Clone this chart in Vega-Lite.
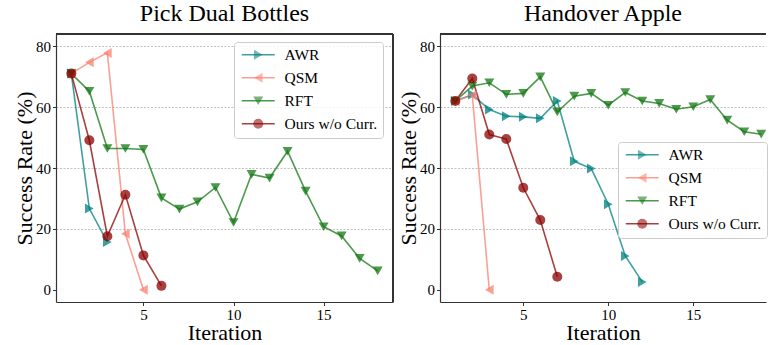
{
  "$schema": "https://vega.github.io/schema/vega-lite/v6.json",
  "padding": {"left": 13, "top": 2, "right": 0, "bottom": 0},
  "datasets": {
    "pick": [
      {"method": "AWR", "iteration": 1, "rate": 71},
      {"method": "AWR", "iteration": 2, "rate": 26.7},
      {"method": "AWR", "iteration": 3, "rate": 15.7},
      {"method": "QSM", "iteration": 1, "rate": 71},
      {"method": "QSM", "iteration": 2, "rate": 74.7},
      {"method": "QSM", "iteration": 3, "rate": 77.8},
      {"method": "QSM", "iteration": 4, "rate": 18.4},
      {"method": "QSM", "iteration": 5, "rate": 0},
      {"method": "RFT", "iteration": 1, "rate": 71},
      {"method": "RFT", "iteration": 2, "rate": 65.2},
      {"method": "RFT", "iteration": 3, "rate": 46.4},
      {"method": "RFT", "iteration": 4, "rate": 46.4},
      {"method": "RFT", "iteration": 5, "rate": 46.1},
      {"method": "RFT", "iteration": 6, "rate": 30.2},
      {"method": "RFT", "iteration": 7, "rate": 26.5},
      {"method": "RFT", "iteration": 8, "rate": 28.9},
      {"method": "RFT", "iteration": 9, "rate": 33.6},
      {"method": "RFT", "iteration": 10, "rate": 22.1},
      {"method": "RFT", "iteration": 11, "rate": 37.9},
      {"method": "RFT", "iteration": 12, "rate": 36.7},
      {"method": "RFT", "iteration": 13, "rate": 45.5},
      {"method": "RFT", "iteration": 14, "rate": 32.4},
      {"method": "RFT", "iteration": 15, "rate": 20.7},
      {"method": "RFT", "iteration": 16, "rate": 17.7},
      {"method": "RFT", "iteration": 17, "rate": 10.3},
      {"method": "RFT", "iteration": 18, "rate": 6.2},
      {"method": "Ours w/o Curr.", "iteration": 1, "rate": 71},
      {"method": "Ours w/o Curr.", "iteration": 2, "rate": 49.1},
      {"method": "Ours w/o Curr.", "iteration": 3, "rate": 17.6},
      {"method": "Ours w/o Curr.", "iteration": 4, "rate": 31.2},
      {"method": "Ours w/o Curr.", "iteration": 5, "rate": 11.3},
      {"method": "Ours w/o Curr.", "iteration": 6, "rate": 1.3}
    ],
    "apple": [
      {"method": "AWR", "iteration": 1, "rate": 62},
      {"method": "AWR", "iteration": 2, "rate": 64.1},
      {"method": "AWR", "iteration": 3, "rate": 59.2},
      {"method": "AWR", "iteration": 4, "rate": 57.0},
      {"method": "AWR", "iteration": 5, "rate": 56.8},
      {"method": "AWR", "iteration": 6, "rate": 56.3},
      {"method": "AWR", "iteration": 7, "rate": 62.0},
      {"method": "AWR", "iteration": 8, "rate": 42.2},
      {"method": "AWR", "iteration": 9, "rate": 39.8},
      {"method": "AWR", "iteration": 10, "rate": 28.1},
      {"method": "AWR", "iteration": 11, "rate": 11.1},
      {"method": "AWR", "iteration": 12, "rate": 2.6},
      {"method": "QSM", "iteration": 1, "rate": 62},
      {"method": "QSM", "iteration": 2, "rate": 63.9},
      {"method": "QSM", "iteration": 3, "rate": 0},
      {"method": "RFT", "iteration": 1, "rate": 62},
      {"method": "RFT", "iteration": 2, "rate": 66.9},
      {"method": "RFT", "iteration": 3, "rate": 68},
      {"method": "RFT", "iteration": 4, "rate": 64.2},
      {"method": "RFT", "iteration": 5, "rate": 64.5},
      {"method": "RFT", "iteration": 6, "rate": 69.9},
      {"method": "RFT", "iteration": 7, "rate": 58.4},
      {"method": "RFT", "iteration": 8, "rate": 63.6},
      {"method": "RFT", "iteration": 9, "rate": 64.5},
      {"method": "RFT", "iteration": 10, "rate": 60.6},
      {"method": "RFT", "iteration": 11, "rate": 64.8},
      {"method": "RFT", "iteration": 12, "rate": 62},
      {"method": "RFT", "iteration": 13, "rate": 61.2},
      {"method": "RFT", "iteration": 14, "rate": 59.3},
      {"method": "RFT", "iteration": 15, "rate": 60.1},
      {"method": "RFT", "iteration": 16, "rate": 62.5},
      {"method": "RFT", "iteration": 17, "rate": 55.7},
      {"method": "RFT", "iteration": 18, "rate": 51.9},
      {"method": "RFT", "iteration": 19, "rate": 51.1},
      {"method": "Ours w/o Curr.", "iteration": 1, "rate": 62},
      {"method": "Ours w/o Curr.", "iteration": 2, "rate": 69.4},
      {"method": "Ours w/o Curr.", "iteration": 3, "rate": 51.0},
      {"method": "Ours w/o Curr.", "iteration": 4, "rate": 49.5},
      {"method": "Ours w/o Curr.", "iteration": 5, "rate": 33.5},
      {"method": "Ours w/o Curr.", "iteration": 6, "rate": 22.9},
      {"method": "Ours w/o Curr.", "iteration": 7, "rate": 4.3}
    ]
  },
  "spacing": 2,
  "resolve": {
    "scale": {"stroke": "independent", "fill": "independent", "shape": "independent"},
    "legend": {"stroke": "independent", "fill": "independent", "shape": "independent"}
  },
  "hconcat": [
    {
      "width": 337,
      "height": 268,
      "title": {"text": "Pick Dual Bottles"},
      "data": {"name": "pick"},
      "layer": [
        {
          "mark": {"type": "rule", "color": "#333333", "strokeWidth": 1.2},
          "encoding": {"y": {"datum": 84, "type": "quantitative"}}
        },
        {
          "mark": {"type": "rule", "color": "#333333", "strokeWidth": 1.2},
          "encoding": {"x": {"datum": 18.85, "type": "quantitative"}}
        },
        {
          "mark": {"type": "line", "strokeWidth": 1.6, "opacity": 0.75},
          "encoding": {
            "x": {"field": "iteration", "type": "quantitative", "scale": {"domain": [0.15, 18.85], "nice": false, "zero": false},
                  "axis": {"values": [5, 10, 15], "grid": false, "title": "Iteration", "titlePadding": 0}},
            "y": {"field": "rate", "type": "quantitative", "scale": {"domain": [-4, 84], "nice": false, "zero": false},
                  "axis": {"values": [0, 20, 40, 60, 80], "grid": true, "gridColor": "#b0b0b0", "gridDash": [2, 1.5], "gridWidth": 0.8,
                           "gridOpacity": {"condition": {"test": "datum.value === 0", "value": 0}, "value": 1},
                           "title": "Success Rate (%)", "titlePadding": -1}},
            "stroke": {"field": "method", "type": "nominal", "sort": ["AWR", "QSM", "RFT", "Ours w/o Curr."],
                       "scale": {"range": ["#008080", "#fa8072", "#117711", "#8b0000"]},
                       "legend": {"orient": "none", "legendX": 178, "legendY": 8, "title": null, "symbolType": "M-1,0H5.6", "symbolSize": 100,
                                  "symbolStrokeWidth": 1.6, "labelOffset": 30, "strokeColor": "#cccccc", "fillColor": "rgba(255,255,255,0.8)"}}
          }
        },
        {
          "mark": {"type": "point", "filled": true, "size": 100, "opacity": 0.75},
          "encoding": {
            "x": {"field": "iteration", "type": "quantitative"},
            "y": {"field": "rate", "type": "quantitative"},
            "fill": {"field": "method", "type": "nominal",
                     "scale": {"domain": ["AWR", "QSM", "RFT", "Ours w/o Curr."], "range": ["#008080", "#fa8072", "#117711", "#8b0000"]},
                     "legend": {"orient": "none", "legendX": 189.5, "legendY": 8, "title": null, "symbolSize": 100, "symbolStrokeWidth": 0,
                                "labelOffset": 30, "labelOpacity": 0, "strokeColor": "transparent", "fillColor": "transparent"}},
            "shape": {"field": "method", "type": "nominal",
                      "scale": {"domain": ["AWR", "QSM", "RFT", "Ours w/o Curr."], "range": ["triangle-right", "triangle-left", "triangle-down", "circle"]},
                      "legend": {"orient": "none", "legendX": 189.5, "legendY": 8, "title": null, "symbolSize": 100, "symbolStrokeWidth": 0,
                                "labelOffset": 30, "labelOpacity": 0, "strokeColor": "transparent", "fillColor": "transparent"}}
          }
        }
      ]
    },
    {
      "width": 326,
      "height": 268,
      "title": {"text": "Handover Apple"},
      "data": {"name": "apple"},
      "layer": [
        {
          "mark": {"type": "rule", "color": "#333333", "strokeWidth": 1.2},
          "encoding": {"y": {"datum": 84, "type": "quantitative"}}
        },
        {
          "mark": {"type": "line", "strokeWidth": 1.6, "opacity": 0.75},
          "encoding": {
            "x": {"field": "iteration", "type": "quantitative", "scale": {"domain": [0.1, 19.28], "nice": false, "zero": false},
                  "axis": {"values": [5, 10, 15], "grid": false, "title": "Iteration", "titlePadding": 0}},
            "y": {"field": "rate", "type": "quantitative", "scale": {"domain": [-4, 84], "nice": false, "zero": false},
                  "axis": {"values": [0, 20, 40, 60, 80], "grid": true, "gridColor": "#b0b0b0", "gridDash": [2, 1.5], "gridWidth": 0.8,
                           "gridOpacity": {"condition": {"test": "datum.value === 0", "value": 0}, "value": 1},
                           "title": "Success Rate (%)", "titlePadding": -1}},
            "stroke": {"field": "method", "type": "nominal", "sort": ["AWR", "QSM", "RFT", "Ours w/o Curr."],
                       "scale": {"range": ["#008080", "#fa8072", "#117711", "#8b0000"]},
                       "legend": {"orient": "none", "legendX": 178, "legendY": 108, "title": null, "symbolType": "M-1,0H5.6", "symbolSize": 100,
                                  "symbolStrokeWidth": 1.6, "labelOffset": 30, "strokeColor": "#cccccc", "fillColor": "rgba(255,255,255,0.8)"}}
          }
        },
        {
          "mark": {"type": "point", "filled": true, "size": 100, "opacity": 0.75},
          "encoding": {
            "x": {"field": "iteration", "type": "quantitative"},
            "y": {"field": "rate", "type": "quantitative"},
            "fill": {"field": "method", "type": "nominal",
                     "scale": {"domain": ["AWR", "QSM", "RFT", "Ours w/o Curr."], "range": ["#008080", "#fa8072", "#117711", "#8b0000"]},
                     "legend": {"orient": "none", "legendX": 189.5, "legendY": 108, "title": null, "symbolSize": 100, "symbolStrokeWidth": 0,
                                "labelOffset": 30, "labelOpacity": 0, "strokeColor": "transparent", "fillColor": "transparent"}},
            "shape": {"field": "method", "type": "nominal",
                      "scale": {"domain": ["AWR", "QSM", "RFT", "Ours w/o Curr."], "range": ["triangle-right", "triangle-left", "triangle-down", "circle"]},
                      "legend": {"orient": "none", "legendX": 189.5, "legendY": 108, "title": null, "symbolSize": 100, "symbolStrokeWidth": 0,
                                "labelOffset": 30, "labelOpacity": 0, "strokeColor": "transparent", "fillColor": "transparent"}}
          }
        }
      ]
    }
  ],
  "config": {
    "font": "Liberation Serif",
    "view": {"stroke": null},
    "axis": {"labelFont": "Liberation Serif", "labelFontSize": 15, "labelColor": "#000000",
             "titleFont": "Liberation Serif", "titleFontSize": 22, "titleFontWeight": "normal", "titleColor": "#000000",
             "tickColor": "#333333", "tickSize": 3.5, "tickWidth": 1, "domainColor": "#333333", "domainWidth": 1.2, "labelPadding": 2},
    "title": {"font": "Liberation Serif", "fontSize": 24, "fontWeight": "normal", "color": "#000000", "baseline": "alphabetic", "offset": 7, "frame": "group"},
    "legend": {"labelFont": "Liberation Serif", "labelFontSize": 15.5, "labelColor": "#000000", "rowPadding": 6, "padding": 5, "cornerRadius": 3}
  }
}
